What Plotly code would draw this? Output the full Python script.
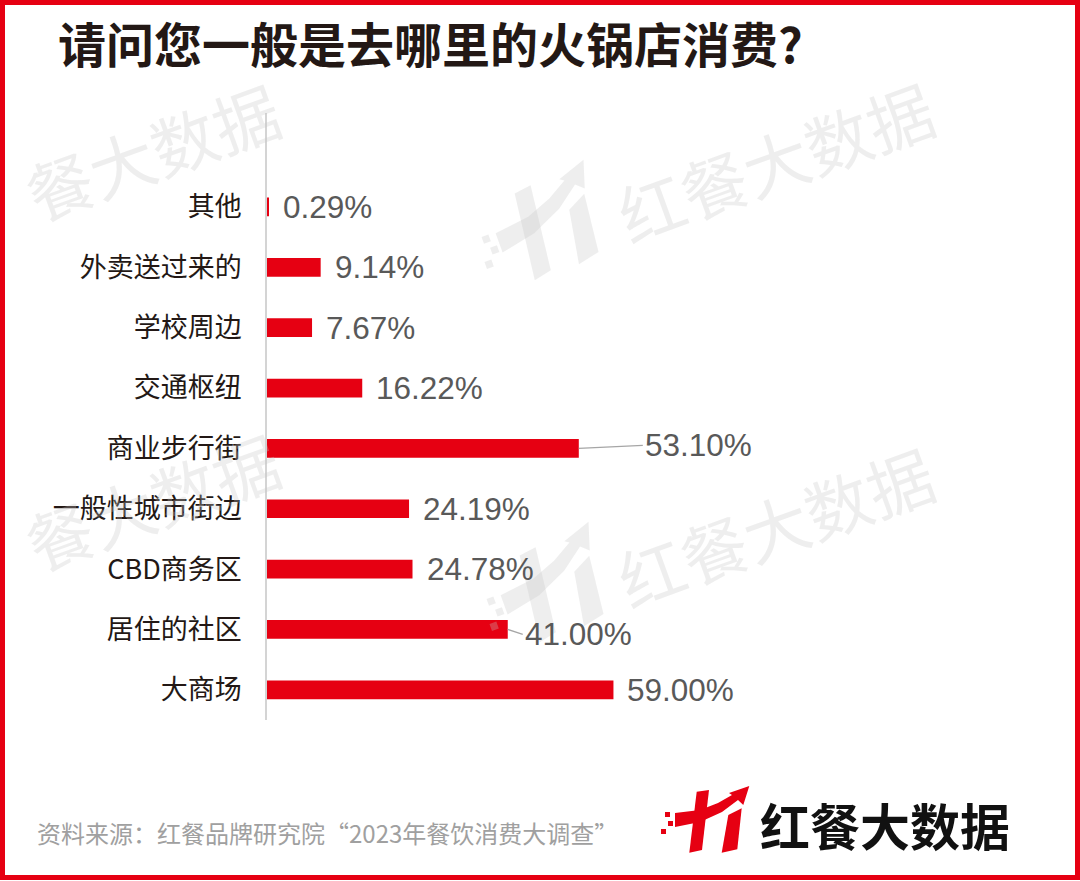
import math
import plotly.graph_objects as go

# ---------------- data ----------------
categories = ["其他", "外卖送过来的", "学校周边", "交通枢纽", "商业步行街",
              "一般性城市街边", "CBD商务区", "居住的社区", "大商场"]
values = [0.29, 9.14, 7.67, 16.22, 53.10, 24.19, 24.78, 41.00, 59.00]
value_labels = ["0.29%", "9.14%", "7.67%", "16.22%", "53.10%",
                "24.19%", "24.78%", "41.00%", "59.00%"]

title_text = "请问您一般是去哪里的火锅店消费?"
source_text = "资料来源：红餐品牌研究院“2023年餐饮消费大调查”"
brand_text = "红餐大数据"

# ---------------- layout geometry ----------------
W, H = 1080, 881
ML, MR, MT, MB = 267, 79, 113, 161
PW, PH = W - ML - MR, H - MT - MB
RED = "#e60012"
WM = "rgba(200,200,200,0.30)"


def px(x):
    return (x - ML) / PW


def py(y):
    return (H - MB - y) / PH


def path(pts):
    return "M " + " L ".join(f"{px(x):.5f},{py(y):.5f}" for x, y in pts) + " Z"


# logo outline pieces (pixel space, centred on 705,820)
LOGO_PARTS = [
    [(696.7, 791.7), (709, 790), (702, 850), (689.3, 852.7)],
    [(728.3, 815), (741.7, 808.3), (737.3, 849.3), (721.7, 852.7)],
    [(675, 813), (700, 810), (718, 803), (732, 795), (729, 793),
     (749.3, 786), (743.3, 805), (738, 800), (722, 812), (700, 822), (675, 827)],
]
LOGO_SQ = [(665, 812), (668, 821), (661, 829)]


def logo_shapes(cx, cy, scale, angle_deg, color):
    a = math.radians(angle_deg)
    ca, sa = math.cos(a), math.sin(a)

    def tf(p):
        dx, dy = (p[0] - 705) * scale, (p[1] - 820) * scale
        return (cx + dx * ca - dy * sa, cy + dx * sa + dy * ca)

    out = []
    parts = [list(p) for p in LOGO_PARTS]
    parts += [[(sx, sy), (sx + 5, sy), (sx + 5, sy + 5), (sx, sy + 5)] for sx, sy in LOGO_SQ]
    for part in parts:
        out.append(dict(type="path", xref="paper", yref="paper", fillcolor=color,
                        line=dict(width=0), path=path([tf(p) for p in part])))
    return out


fig = go.Figure()
fig.add_trace(go.Bar(
    x=values, y=categories, orientation="h",
    marker=dict(color=RED, line=dict(width=0)),
    width=0.31, hoverinfo="skip",
))

annotations = []
label_font = dict(family="Liberation Sans, Arial", size=31.5, color="#595959")
leaders = {"商业步行街": (64, -3), "居住的社区": (15, 5)}
for cat, v, lab in zip(categories, values, value_labels):
    if cat in leaders:
        ax, ay = leaders[cat]
        annotations.append(dict(
            x=v, y=cat, xref="x", yref="y", text=lab, showarrow=True,
            ax=ax, ay=ay, arrowhead=0, arrowwidth=1.3, arrowcolor="#a6a6a6",
            standoff=0, xanchor="left", yanchor="middle", font=label_font,
        ))
    else:
        annotations.append(dict(
            x=v, y=cat, xref="x", yref="y", text=lab, showarrow=False,
            xanchor="left", yanchor="middle", xshift=12, font=label_font,
        ))

# watermarks
for cx, cy, txt in [(152, 150, "餐大数据"), (775, 160, "红餐大数据"),
                    (152, 500, "餐大数据"), (775, 525, "红餐大数据")]:
    annotations.append(dict(
        x=px(cx), y=py(cy), xref="paper", yref="paper", text=txt,
        showarrow=False, textangle=-20, xanchor="center", yanchor="middle",
        font=dict(family="Noto Sans CJK SC", size=66, color=WM),
    ))

# footer source & brand text
annotations.append(dict(
    x=px(35), y=py(832), xref="paper", yref="paper", text=source_text,
    showarrow=False, xanchor="left", yanchor="middle",
    font=dict(family="Noto Sans CJK SC", size=24, color="#a0a0a0"),
))
annotations.append(dict(
    x=px(758), y=py(824), xref="paper", yref="paper", text="<b>" + brand_text + "</b>",
    showarrow=False, xanchor="left", yanchor="middle",
    font=dict(family="Noto Sans CJK SC", size=50, color="#111111"),
))

shapes = []
shapes.append(dict(type="rect", xref="paper", yref="paper",
                   x0=px(2.5), x1=px(1077.5), y0=py(2.5), y1=py(877.5),
                   line=dict(color=RED, width=5), fillcolor="rgba(0,0,0,0)", layer="above"))
shapes += logo_shapes(705, 820, 1.0, 0, RED)
shapes += logo_shapes(540, 228, 1.45, -20, WM)
shapes += logo_shapes(545, 590, 1.45, -20, WM)

fig.update_layout(
    width=W, height=H,
    margin=dict(l=ML, r=MR, t=MT, b=MB, pad=0),
    paper_bgcolor="white", plot_bgcolor="white",
    showlegend=False,
    title=dict(text="<b>" + title_text + "</b>", x=58 / W, xanchor="left",
               y=1 - 46 / H, yanchor="middle", xref="container", yref="container",
               font=dict(family="Noto Sans CJK SC", size=48, color="#231815")),
    xaxis=dict(range=[0, 125], visible=False, fixedrange=True),
    yaxis=dict(type="category", categoryorder="array", categoryarray=categories,
               range=[8.5, -1.557], showline=True, linecolor="#d4d4d4", linewidth=1.5,
               showgrid=False, zeroline=False, ticks="", ticklabelstandoff=18,
               tickfont=dict(family="Noto Sans CJK SC", size=27, color="#231815")),
    annotations=annotations,
    shapes=shapes,
)

fig.write_html("out.html")
